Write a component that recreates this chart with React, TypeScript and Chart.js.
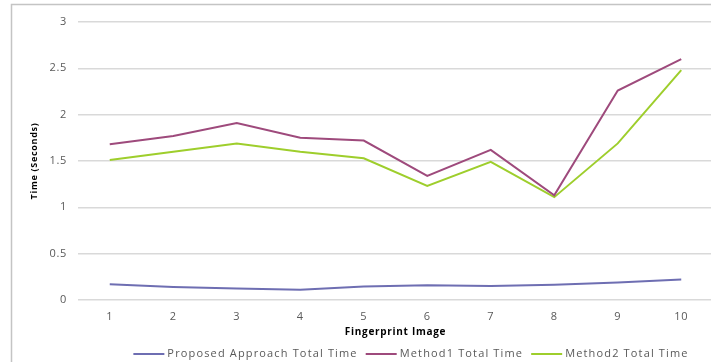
import React, { useEffect, useRef } from "react";
import { Chart, registerables } from "chart.js";

Chart.register(...registerables);

const categories = ["1", "2", "3", "4", "5", "6", "7", "8", "9", "10"];
const proposedTotal = [0.17, 0.14, 0.125, 0.11, 0.145, 0.16, 0.15, 0.165, 0.19, 0.22];
const method1Total = [1.68, 1.77, 1.91, 1.75, 1.72, 1.34, 1.62, 1.13, 2.26, 2.6];
const method2Total = [1.51, 1.6, 1.69, 1.6, 1.53, 1.23, 1.49, 1.11, 1.69, 2.48];
const seriesLabels = ["Proposed Approach Total Time", "Method1 Total Time", "Method2 Total Time"];
const seriesColors = ["#6E6EB2", "#9E4A7C", "#9ECE2C"];
const yTicks = [0, 0.5, 1, 1.5, 2, 2.5, 3];
const yTickLabels = ["0", "0.5", "1", "1.5", "2", "2.5", "3"];

const FONT = "'Open Sans', 'Liberation Sans', sans-serif";

const framePlugin = {
  id: "frame",
  beforeDraw(chart: any) {
    const ctx = chart.ctx;
    ctx.save();
    ctx.fillStyle = "#ffffff";
    ctx.fillRect(0, 0, chart.width, chart.height);
    ctx.strokeStyle = "#C4C4C4";
    ctx.lineWidth = 1.5;
    ctx.strokeRect(11.5, 4.5, chart.width + 50, chart.height + 50);
    ctx.restore();
    (ctx as any).letterSpacing = "0.7px";
  },
};

const legendPlugin = {
  id: "customLegend",
  afterDraw(chart: any) {
    const ctx = chart.ctx;
    ctx.save();
    ctx.font = `11px ${FONT}`;
    (ctx as any).letterSpacing = "1.15px";
    ctx.textBaseline = "middle";
    const lineW = 31;
    const gapLT = 3;
    const gapItems = 8;
    const ds = chart.data.datasets;
    const widths = ds.map((d: any) => lineW + gapLT + ctx.measureText(d.label).width);
    const total = widths.reduce((a: number, b: number) => a + b, 0) + gapItems * (ds.length - 1);
    let x = 411 - total / 2;
    const y = 354;
    ds.forEach((d: any, i: number) => {
      ctx.strokeStyle = d.borderColor;
      ctx.lineWidth = 2;
      ctx.beginPath();
      ctx.moveTo(x, y);
      ctx.lineTo(x + lineW, y);
      ctx.stroke();
      ctx.fillStyle = "#595959";
      ctx.textAlign = "left";
      ctx.fillText(d.label, x + lineW + gapLT, y);
      x += widths[i] + gapItems;
    });
    ctx.restore();
  },
};

export default function App() {
  const ref = useRef<HTMLCanvasElement | null>(null);
  useEffect(() => {
    if (!ref.current) return;
    const series = [proposedTotal, method1Total, method2Total];
    const chart = new Chart(ref.current, {
      type: "line",
      data: {
        labels: categories,
        datasets: series.map((values, i) => ({
          label: seriesLabels[i],
          data: values,
          borderColor: seriesColors[i],
          backgroundColor: seriesColors[i],
          borderWidth: 2,
          pointRadius: 0,
          tension: 0,
          fill: false,
        })),
      },
      options: {
        responsive: false,
        animation: false,
        layout: { padding: { left: 25, right: 3, top: 22, bottom: 24 } },
        plugins: {
          legend: { display: false },
          tooltip: { enabled: false },
        },
        scales: {
          x: {
            offset: true,
            grid: { display: false, drawTicks: false },
            border: { display: false },
            ticks: {
              padding: 10,
              color: "#595959",
              font: { family: FONT, size: 11 },
              maxRotation: 0,
            },
            title: {
              display: true,
              text: "Fingerprint Image",
              color: "#000000",
              font: { family: FONT, size: 10, weight: "bold" },
              padding: { top: 2, bottom: 0 },
            },
            afterFit(scale: any) {
              scale.height = 38;
            },
          },
          y: {
            min: 0,
            max: 3,
            afterBuildTicks(scale: any) {
              scale.ticks = yTicks.map((v) => ({ value: v }));
            },
            grid: { color: "#D9D9D9", lineWidth: 1.5, drawTicks: false },
            border: { display: false },
            ticks: {
              padding: 11,
              color: "#595959",
              font: { family: FONT, size: 11 },
              callback: (v: any) => {
                const idx = yTicks.indexOf(Number(v));
                return idx >= 0 ? yTickLabels[idx] : String(v);
              },
            },
            title: {
              display: true,
              text: "Time (Seconds)",
              color: "#000000",
              font: { family: FONT, size: 9, weight: "bold" },
              padding: { top: 4, bottom: 8 },
            },
            afterFit(scale: any) {
              scale.width = 53;
            },
          },
        },
      },
      plugins: [framePlugin, legendPlugin],
    } as any);
    return () => chart.destroy();
  }, []);
  return (
    <div
      style={{
        position: "fixed",
        left: 0,
        top: 0,
        width: 711,
        height: 362,
        overflow: "hidden",
        background: "#fff",
      }}
    >
      <canvas ref={ref} width={716} height={362} style={{ display: "block", width: 716, height: 362 }} />
    </div>
  );
}
